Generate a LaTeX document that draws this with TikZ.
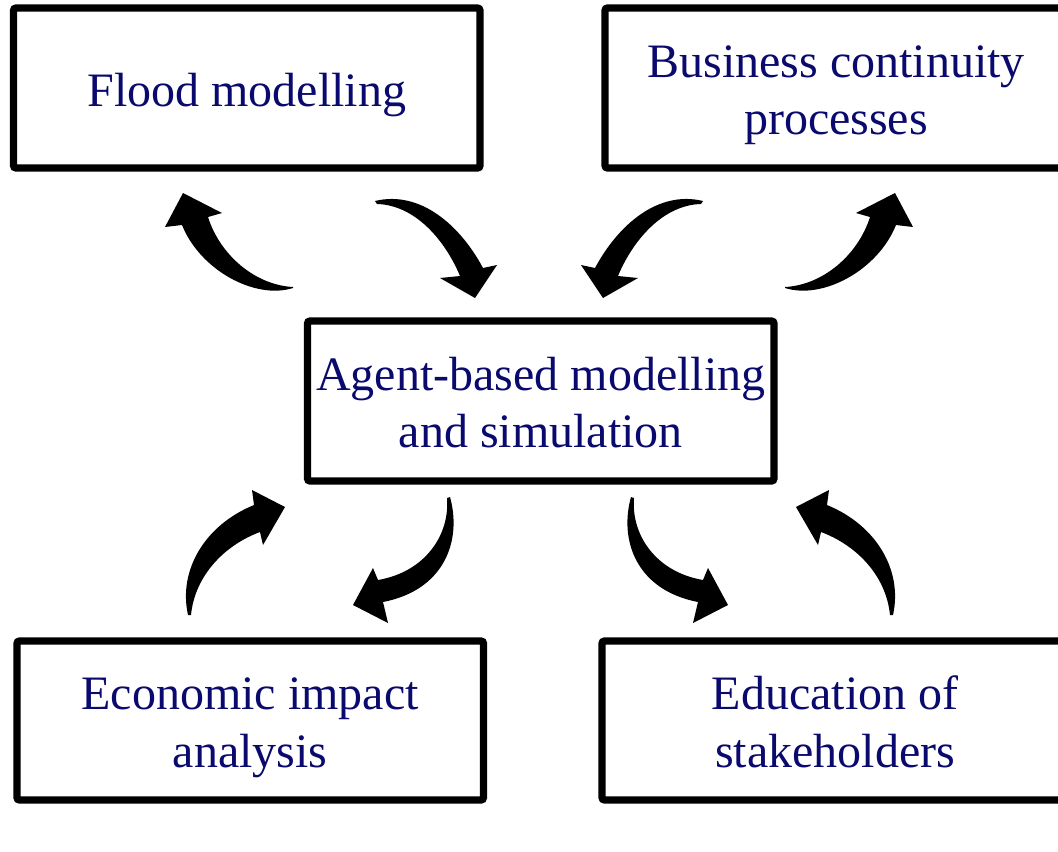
\documentclass[tikz,border=0pt]{standalone}
\usepackage{fontspec}
\setmainfont{Liberation Serif}
\definecolor{navy}{RGB}{10,10,110}
\begin{document}
\begin{tikzpicture}[x=0.75pt,y=-0.75pt,
  box/.style={draw,line width=5.5pt,rounded corners=2pt,inner sep=0pt},
  boxtext/.style={inner sep=0pt,align=center,text=navy,
    font=\fontsize{36}{43}\selectfont,yshift=-5pt},
  blockarrow/.style={fill=black,draw=none},
  mirror/.style={xshift=808.5pt,xscale=-1}]
\useasboundingbox (0,0) rectangle (1058,851);
\clip (0,0) rectangle (1058,851);

% frames
\node[box,minimum width=349.9pt,minimum height=120pt] (flood) at (246.75,88) {};
\node[box,minimum width=346.5pt,minimum height=120pt] (bcp) at (836,88) {};
\node[box,minimum width=349.9pt,minimum height=120pt] (abm) at (540.75,401) {};
\node[box,minimum width=349.9pt,minimum height=119.25pt] (eia) at (250.25,720.5) {};
\node[box,minimum width=349.5pt,minimum height=119.25pt] (edu) at (835,720.5) {};

% labels inside the frames
\node[boxtext] (floodtxt) at (flood.center) {\strut Flood modelling};
\node[boxtext] (bcptxt) at (bcp.center) {\strut Business continuity\\\strut processes};
\node[boxtext] (abmtxt) at (abm.center) {\strut Agent-based modelling\\\strut and simulation};
\node[boxtext] (eiatxt) at (eia.center) {\strut Economic impact\\\strut analysis};
\node[boxtext] (edutxt) at (edu.center) {\strut Education of\\\strut stakeholders};

% curved block arrows: upper row
\newcommand\uparrowleft{%
  \fill[blockarrow] (293,288) .. controls (255,300) and (200,270) .. (182,225)
    -- (165,227) -- (183,193) -- (222,213) -- (208,217)
    .. controls (220,255) and (255,285) .. (293,287) -- cycle;}
\newcommand\downarrowinner{%
  \fill[blockarrow] (375,201) .. controls (420,190) and (460,225) .. (483,268)
    -- (497,265) -- (475,298) -- (440,278) -- (460,276)
    .. controls (445,240) and (415,205) .. (377,204) -- cycle;}
% lower row
\newcommand\lowerarrowup{%
  \fill[blockarrow] (188,615) .. controls (178,570) and (205,525) .. (254,505)
    -- (252,490) -- (285,507) -- (263,545) -- (260,532)
    .. controls (225,545) and (195,575) .. (191,615) -- cycle;}
\newcommand\lowerarrowdown{%
  \fill[blockarrow] (450,497) .. controls (462,540) and (445,590) .. (383,602)
    -- (388,623) -- (353,605) -- (373,568) -- (378,580)
    .. controls (425,572) and (450,535) .. (447,498) -- cycle;}

\uparrowleft
\downarrowinner
\lowerarrowup
\lowerarrowdown
\begin{scope}[mirror]
  \uparrowleft
  \downarrowinner
\end{scope}
\begin{scope}[xshift=810.75pt,xscale=-1]
  \lowerarrowup
  \lowerarrowdown
\end{scope}
\end{tikzpicture}
\end{document}
